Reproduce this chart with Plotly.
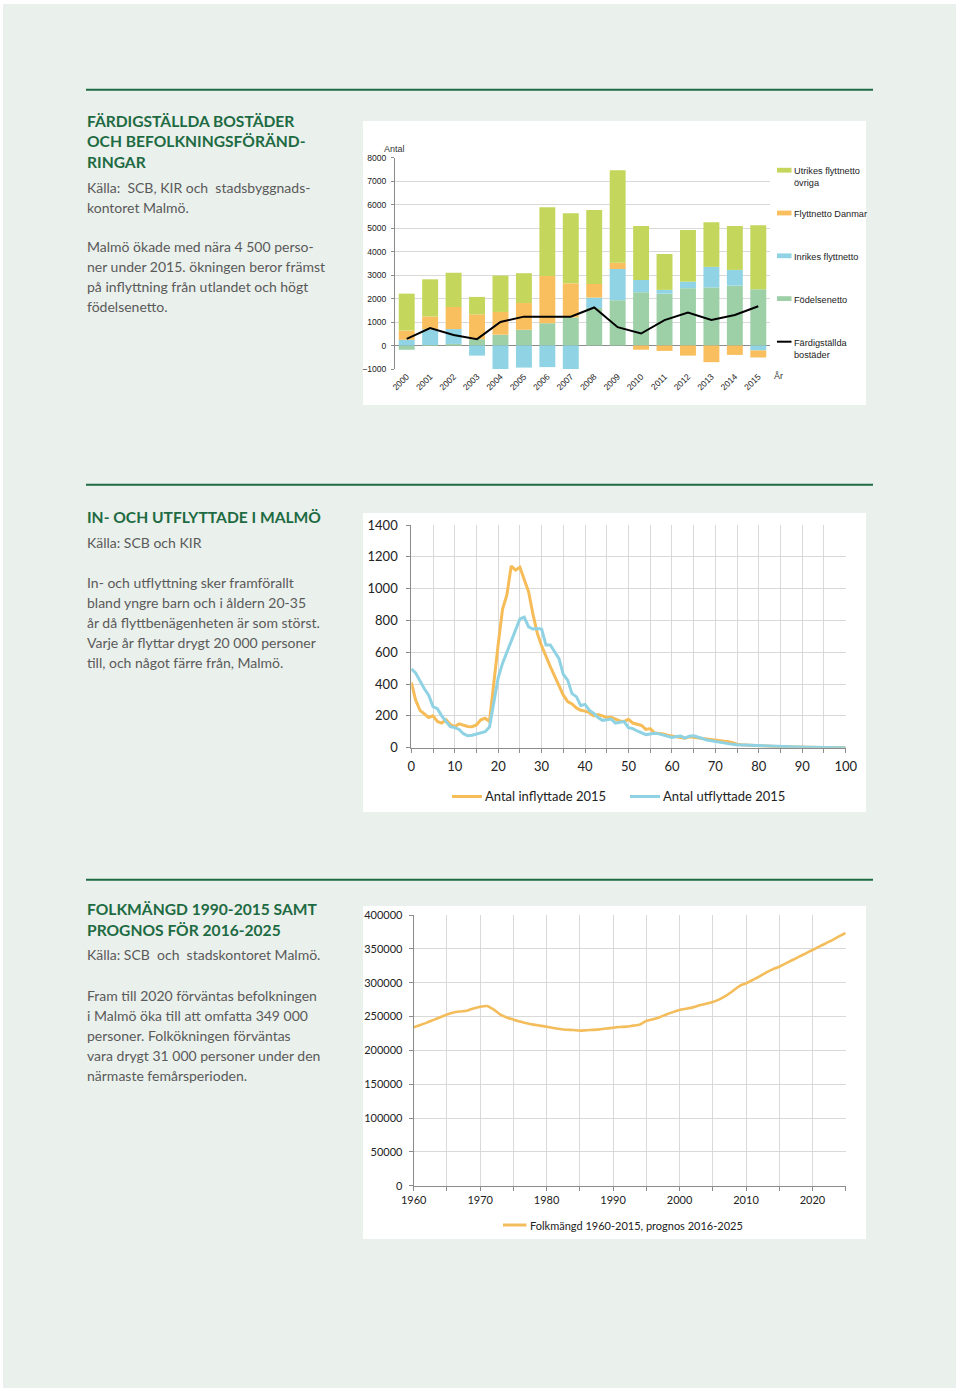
import plotly.graph_objects as go

W, H = 960, 1391


def px(x):
    return x / W


def py(y):
    return 1 - y / H


# ---------------- Data: chart 1 (bars + line) ----------------
years = [str(y) for y in range(2000, 2016)]
fodelsenetto = [-180, 20, 70, 270, 460, 670, 950, 1200, 1600, 1930, 2270, 2210, 2440, 2470, 2550, 2400]
inrikes = [243, 670, 630, -430, -1000, -940, -920, -1000, 440, 1330, 520, 160, 280, 880, 670, -210]
danmark = [397, 550, 940, 1060, 970, 1140, 2010, 1450, 580, 270, -180, -230, -430, -710, -400, -300]
utrikes = [1570, 1580, 1460, 740, 1550, 1270, 2930, 2980, 3150, 3940, 2300, 1530, 2200, 1900, 1870, 2720]
bostader = [280, 740, 450, 270, 1000, 1230, 1230, 1230, 1620, 780, 510, 1080, 1400, 1090, 1300, 1670]
y1_ticks = [-1000, 0, 1000, 2000, 3000, 4000, 5000, 6000, 7000, 8000]

# ---------------- Data: chart 2 (age profile) ----------------
ages = list(range(0, 101))
inflyttade = [410, 300, 235, 210, 190, 200, 165, 155, 175, 145,
              132, 150, 140, 133, 132, 143, 175, 185, 165, 420,
              650, 870, 960, 1142, 1117, 1134, 1050, 980, 840, 720,
              640, 570, 510, 450, 390, 330, 290, 275, 250, 235,
              230, 220, 200, 208, 200, 190, 192, 182, 168, 165,
              178, 155, 145, 140, 115, 120, 92, 90, 86, 78,
              74, 72, 65, 60, 69, 66, 62, 58, 55, 52,
              50, 46, 44, 38, 32, 22, 19, 17, 15, 14,
              13, 11, 9, 8, 7, 6, 6, 5, 4, 4,
              3, 3, 2, 2, 2, 1, 1, 1, 0, 0, 0]
utflyttade = [495, 470, 420, 370, 330, 258, 245, 200, 165, 132,
              126, 115, 88, 75, 78, 84, 92, 100, 130, 300,
              440, 530, 600, 680, 740, 810, 820, 760, 746, 750,
              746, 646, 646, 600, 560, 460, 425, 340, 321, 265,
              272, 235, 216, 190, 172, 175, 180, 155, 160, 164,
              126, 120, 105, 92, 82, 86, 90, 87, 80, 70,
              64, 70, 74, 60, 72, 75, 68, 58, 48, 43,
              42, 36, 30, 25, 21, 18, 17, 17, 15, 13,
              11, 9, 8, 7, 6, 6, 5, 5, 4, 4,
              4, 3, 3, 2, 2, 2, 1, 1, 1, 0, 0]

# ---------------- Data: chart 3 (population) ----------------
pop_years = list(range(1960, 2026))
folkmangd = [234000, 237500, 241000, 245000, 249000, 253000, 256000, 257500, 258600, 262000,
             264500, 265500, 260500, 253000, 248500, 245500, 242500, 240000, 238000, 236500,
             235000, 233000, 231500, 230500, 230000, 229100, 229800, 230300, 231000, 232200,
             233500, 234500, 235000, 236500, 238000, 243500, 246000, 249000, 253000, 256500,
             259600, 261500, 263500, 266500, 269000, 271400, 275400, 280800, 287700, 295000,
             299000, 304000, 309000, 314800, 319700, 323600, 328600, 333500, 338400, 343300,
             348300, 353200, 358200, 363000, 368500, 373500]

# ---------------- Texts ----------------
block1_head = ["FÄRDIGSTÄLLDA BOSTÄDER", "OCH BEFOLKNINGSFÖRÄND-", "RINGAR"]
block1_body = ["Källa:  SCB, KIR och  stadsbyggnads-", "kontoret Malmö.", "",
               "Malmö ökade med nära 4 500 perso-", "ner under 2015. ökningen beror främst",
               "på inflyttning från utlandet och högt", "födelsenetto."]
block2_head = ["IN- OCH UTFLYTTADE I MALMÖ"]
block2_body = ["Källa: SCB och KIR", "",
               "In- och utflyttning sker framförallt", "bland yngre barn och i åldern 20-35",
               "år då flyttbenägenheten är som störst.", "Varje år flyttar drygt 20 000 personer",
               "till, och något färre från, Malmö."]
block3_head = ["FOLKMÄNGD 1990-2015 SAMT", "PROGNOS FÖR 2016-2025"]
block3_body = ["Källa: SCB  och  stadskontoret Malmö.", "",
               "Fram till 2020 förväntas befolkningen", "i Malmö öka till att omfatta 349 000",
               "personer. Folkökningen förväntas", "vara drygt 31 000 personer under den",
               "närmaste femårsperioden."]

legend1 = [("Utrikes flyttnetto<br>övriga", "bar"), ("Flyttnetto Danmar", "bar"),
           ("Inrikes flyttnetto", "bar"), ("Födelsenetto", "bar"),
           ("Färdigställda<br>bostäder", "line")]

# ---------------- Styles ----------------
C_UTR = "#c4d75c"
C_DK = "#f9bf5f"
C_INR = "#8fd3e4"
C_FOD = "#9dd0a7"
C_IN = "#f6bc58"
C_UT = "#8fd2e3"
C_POP = "#f4bd5c"
GRID = "#d9d9d9"
AXIS = "#8c8c8c"
GREEN = "#1e6b43"
BODY = "#5a5a5a"
PAGE = "#eaf0ec"
ARIAL = "Liberation Sans, Arial, sans-serif"
CAL = "Lato, Open Sans, sans-serif"
HEAD_FONT = "Lato, Open Sans, sans-serif"

fig = go.Figure()

# chart 1
for name, vals, col in [("Födelsenetto", fodelsenetto, C_FOD), ("Inrikes flyttnetto", inrikes, C_INR),
                        ("Flyttnetto Danmark", danmark, C_DK), ("Utrikes flyttnetto övriga", utrikes, C_UTR)]:
    fig.add_trace(go.Bar(x=years, y=vals, name=name, marker=dict(color=col, line=dict(width=0)),
                         xaxis="x", yaxis="y", showlegend=False))
fig.add_trace(go.Scatter(x=years, y=bostader, mode="lines", line=dict(color="#000000", width=2),
                         xaxis="x", yaxis="y", showlegend=False, name="Färdigställda bostäder"))

# chart 2
fig.add_trace(go.Scatter(x=ages, y=inflyttade, mode="lines", line=dict(color=C_IN, width=3),
                         xaxis="x2", yaxis="y2", showlegend=False, name="Antal inflyttade 2015"))
fig.add_trace(go.Scatter(x=ages, y=utflyttade, mode="lines", line=dict(color=C_UT, width=3),
                         xaxis="x2", yaxis="y2", showlegend=False, name="Antal utflyttade 2015"))

# chart 3
fig.add_trace(go.Scatter(x=pop_years, y=folkmangd, mode="lines", line=dict(color=C_POP, width=2.6, shape="spline", smoothing=0.6),
                         xaxis="x3", yaxis="y3", showlegend=False, name="Folkmängd"))

shapes = []
# page background
shapes.append(dict(type="rect", xref="paper", yref="paper", x0=px(3), x1=px(956), y0=py(1388), y1=py(4),
                   fillcolor=PAGE, line=dict(width=0), layer="below"))
# white panels
for (x0, y0, x1, y1) in [(363, 121, 866, 405), (363, 513, 866, 812), (363, 906, 866, 1239)]:
    shapes.append(dict(type="rect", xref="paper", yref="paper", x0=px(x0), x1=px(x1), y0=py(y1), y1=py(y0),
                       fillcolor="#ffffff", line=dict(width=0), layer="below"))
# green rules
for yy in [89.7, 484.7, 879.7]:
    shapes.append(dict(type="line", xref="paper", yref="paper", x0=px(86), x1=px(873), y0=py(yy), y1=py(yy),
                       line=dict(color=GREEN, width=2)))

annotations = []


def text_block(lines_head, lines_body, y_head0, head_step, y_body0, body_step):
    for i, t in enumerate(lines_head):
        annotations.append(dict(text="<b>" + t + "</b>", x=px(85), y=py(y_head0 + i * head_step), xref="paper", yref="paper",
                                xanchor="left", yanchor="middle", showarrow=False,
                                font=dict(family=HEAD_FONT, size=15.6, color=GREEN)))
    for i, t in enumerate(lines_body):
        if not t:
            continue
        annotations.append(dict(text=t, x=px(84.5), y=py(y_body0 + i * body_step), xref="paper", yref="paper",
                                xanchor="left", yanchor="middle", showarrow=False,
                                font=dict(family=HEAD_FONT, size=14, color=BODY)))


text_block(block1_head, block1_body, 120.5, 20.7, 187.5, 19.8)
text_block(block2_head, block2_body, 517, 20, 542, 20)
text_block(block3_head, block3_body, 909, 20.5, 955, 20)

# chart 1 labels
annotations.append(dict(text="Antal", x=px(394), y=py(149), xref="paper", yref="paper", showarrow=False,
                        xanchor="center", yanchor="middle", font=dict(family=ARIAL, size=9, color="#333333")))
annotations.append(dict(text="År", x=px(778), y=py(376.5), xref="paper", yref="paper", showarrow=False,
                        xanchor="center", yanchor="middle", font=dict(family=ARIAL, size=9, color="#333333")))

# chart 1 legend (manual)
leg_y = [170.2, 213, 255.8, 298.6, 341.7]
leg_cols = [C_UTR, C_DK, C_INR, C_FOD, "#000000"]
for (label, kind), yy, col in zip(legend1, leg_y, leg_cols):
    if kind == "bar":
        shapes.append(dict(type="rect", xref="paper", yref="paper", x0=px(777), x1=px(791.5), y0=py(yy + 2.4), y1=py(yy - 2.4),
                           fillcolor=col, line=dict(width=0)))
    else:
        shapes.append(dict(type="line", xref="paper", yref="paper", x0=px(777), x1=px(791.5), y0=py(yy), y1=py(yy),
                           line=dict(color=col, width=2)))
    annotations.append(dict(text=label, x=px(791.5), y=py(yy - 6), xref="paper", yref="paper", showarrow=False,
                            xanchor="left", yanchor="top", align="left",
                            font=dict(family=ARIAL, size=9.2, color="#222222")))

# chart 2 legend
for x0, x1, col, label in [(452, 482, C_IN, "Antal inflyttade 2015"), (630, 660, C_UT, "Antal utflyttade 2015")]:
    shapes.append(dict(type="line", xref="paper", yref="paper", x0=px(x0), x1=px(x1), y0=py(796.5), y1=py(796.5),
                       line=dict(color=col, width=3)))
    annotations.append(dict(text=label, x=px(x1 + 1), y=py(796.5), xref="paper", yref="paper", showarrow=False,
                            xanchor="left", yanchor="middle", font=dict(family=CAL, size=13, color="#222222")))

# chart 3 legend
shapes.append(dict(type="line", xref="paper", yref="paper", x0=px(503), x1=px(526.5), y0=py(1225), y1=py(1225),
                   line=dict(color=C_POP, width=3)))
annotations.append(dict(text="Folkmängd 1960-2015, prognos 2016-2025", x=px(527.5), y=py(1225), xref="paper", yref="paper",
                        showarrow=False, xanchor="left", yanchor="middle", font=dict(family=CAL, size=11, color="#222222")))

fig.update_layout(
    width=W, height=H, margin=dict(l=0, r=0, t=0, b=0, pad=0, autoexpand=False),
    paper_bgcolor="#ffffff", plot_bgcolor="#ffffff",
    barmode="relative", bargap=0.32,
    showlegend=False,
    shapes=shapes, annotations=annotations,
    xaxis=dict(domain=[px(395), px(770)], anchor="y", type="category", range=[-0.5, 15.5], automargin=False,
               tickangle=-45, tickfont=dict(family=ARIAL, size=8.6, color="#222222"),
               showgrid=False, showline=False, ticks="", fixedrange=True),
    yaxis=dict(domain=[py(369), py(157.7)], anchor="x", range=[-1000, 8000], tickvals=y1_ticks, automargin=False,
               tickfont=dict(family=ARIAL, size=8.6, color="#222222"), showgrid=True, gridcolor=GRID, gridwidth=1,
               zeroline=True, zerolinecolor=AXIS, zerolinewidth=1,
               showline=True, linecolor=AXIS, ticks="outside", ticklen=3, tickcolor=AXIS, ticklabelstandoff=3),
    xaxis2=dict(domain=[px(411.3), px(845.7)], anchor="y2", range=[0, 100], dtick=10, tick0=0, automargin=False,
                tickfont=dict(family=CAL, size=13, color="#222222"),
                showgrid=True, gridcolor=GRID, showline=True, linecolor=AXIS, zeroline=False,
                ticks="outside", ticklen=4, tickcolor=AXIS, ticklabelstandoff=3,
                minor=dict(dtick=5, tick0=0, showgrid=True, gridcolor=GRID, ticks="outside", ticklen=4, tickcolor=AXIS)),
    yaxis2=dict(domain=[py(747.7), py(525)], anchor="x2", range=[0, 1400], dtick=200, automargin=False,
                tickfont=dict(family=CAL, size=13, color="#222222"),
                showgrid=True, gridcolor=GRID, showline=True, linecolor=AXIS, zeroline=False,
                ticks="outside", ticklen=4, tickcolor=AXIS, ticklabelstandoff=6),
    xaxis3=dict(domain=[px(413.7), px(845.7)], anchor="y3", range=[1960, 2025], dtick=10, tick0=1960, automargin=False,
                tickfont=dict(family=CAL, size=11, color="#222222"),
                showgrid=True, gridcolor=GRID, showline=True, linecolor=AXIS, zeroline=False,
                ticks="outside", ticklen=4, tickcolor=AXIS,
                minor=dict(dtick=5, tick0=1960, showgrid=True, gridcolor=GRID, ticks="outside", ticklen=4, tickcolor=AXIS)),
    yaxis3=dict(domain=[py(1185.7), py(915)], anchor="x3", range=[0, 400000], dtick=50000, tickformat="d", automargin=False,
                tickfont=dict(family=CAL, size=11, color="#222222"),
                showgrid=True, gridcolor=GRID, showline=True, linecolor=AXIS, zeroline=False,
                ticks="outside", ticklen=4, tickcolor=AXIS, ticklabelstandoff=4),
)

fig.write_html("out.html")
